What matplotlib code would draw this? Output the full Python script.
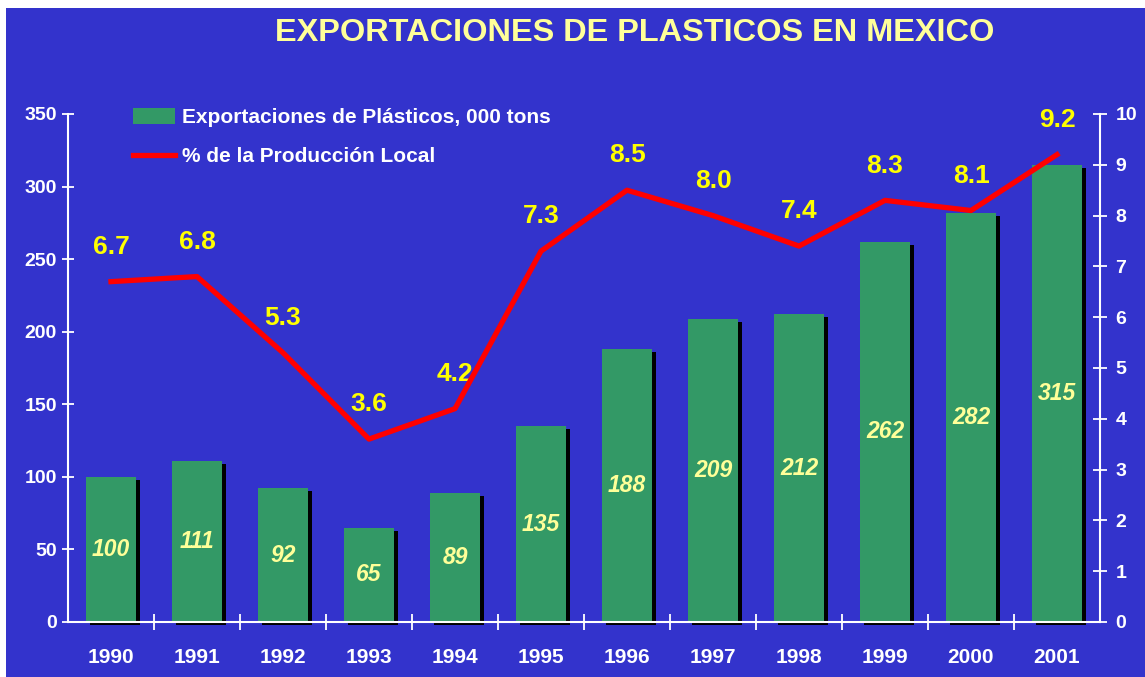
import matplotlib.pyplot as plt
from matplotlib.patches import Rectangle, Patch
from matplotlib.lines import Line2D
import numpy as np

plt.rcParams['font.family'] = ['Liberation Sans', 'DejaVu Sans']

years = ['1990', '1991', '1992', '1993', '1994', '1995',
         '1996', '1997', '1998', '1999', '2000', '2001']
exports = [100, 111, 92, 65, 89, 135, 188, 209, 212, 262, 282, 315]
share = [6.7, 6.8, 5.3, 3.6, 4.2, 7.3, 8.5, 8.0, 7.4, 8.3, 8.1, 9.2]

bg = '#3333CC'
green = '#339966'
pale_yellow = '#FFFF99'

fig = plt.figure(figsize=(11.45, 6.77), dpi=100, facecolor='white')
# blue slide background, leaving a thin white margin top and left
fig.patches.append(Rectangle((6 / 1145, 0), 1, 669 / 677, transform=fig.transFigure,
                             facecolor=bg, edgecolor='none', zorder=-10))

ax = fig.add_axes([68 / 1145, 55 / 677, 1032 / 1145, 508 / 677])
ax.set_facecolor('none')
x = np.arange(len(years))

# drop shadows, then the bars themselves
ax.bar(x + 0.05, exports, width=0.58, bottom=-2, color='black', zorder=1, clip_on=False)
ax.bar(x, exports, width=0.58, color=green, zorder=2)
for xi, v in zip(x, exports):
    ax.text(xi, v / 2, str(v), ha='center', va='center', color=pale_yellow,
            fontsize=16.5, fontweight='bold', style='italic', zorder=3)

ax.set_xlim(-0.5, len(years) - 0.5)
ax.set_ylim(0, 350)
ax.set_yticks(range(0, 351, 50))
ax.set_xticks(x)
ax.set_xticklabels(years)
ax.set_xticks(np.arange(0.5, len(years) - 1, 1), minor=True)

for s in ['top', 'right']:
    ax.spines[s].set_visible(False)
for s in ['left', 'bottom']:
    ax.spines[s].set_color('white')
    ax.spines[s].set_linewidth(1.5)

ax.tick_params(axis='y', colors='white', direction='inout', length=8, width=1.3,
               labelsize=14, pad=4)
ax.tick_params(axis='x', which='major', length=0, colors='white', labelsize=15, pad=19)
ax.tick_params(axis='x', which='minor', direction='inout', length=12, width=1.3, color='white')
for lab in ax.get_xticklabels() + ax.get_yticklabels():
    lab.set_fontweight('bold')

ax2 = ax.twinx()
ax2.set_ylim(0, 10)
ax2.set_yticks(range(0, 11))
ax2.plot(x, share, color='#FF0000', linewidth=3.8, zorder=4)
for xi, v in zip(x, share):
    ax2.annotate(f'{v:.1f}', (xi, v), xytext=(0, 25), textcoords='offset points',
                 ha='center', va='center', color='#FFFF00', fontsize=19, fontweight='bold')
for s in ['top', 'left', 'bottom']:
    ax2.spines[s].set_visible(False)
ax2.spines['right'].set_color('white')
ax2.spines['right'].set_linewidth(1.5)
ax2.tick_params(axis='y', colors='white', direction='inout', length=10, width=1.3,
                labelsize=14, pad=6)
for lab in ax2.get_yticklabels():
    lab.set_fontweight('bold')

handles = [Patch(facecolor=green, edgecolor='none'),
           Line2D([0], [0], color='#FF0000', linewidth=3.8)]
labels = ['Exportaciones de Plásticos, 000 tons', '% de la Producción Local']
leg = fig.legend(handles, labels, loc='upper left', bbox_to_anchor=(133 / 1145, 1 - 108 / 677),
                 frameon=False, fontsize=15, handlelength=2.0, handleheight=0.8,
                 handletextpad=0.35, labelspacing=0.95, borderpad=0, borderaxespad=0)
for t in leg.get_texts():
    t.set_color('white')
    t.set_fontweight('bold')

fig.text(635 / 1145, 1 - 33 / 677, 'EXPORTACIONES DE PLASTICOS EN MEXICO',
         ha='center', va='center', color=pale_yellow, fontsize=23.4, fontweight='bold')

fig.savefig('out.png', dpi=100, facecolor=fig.get_facecolor())
